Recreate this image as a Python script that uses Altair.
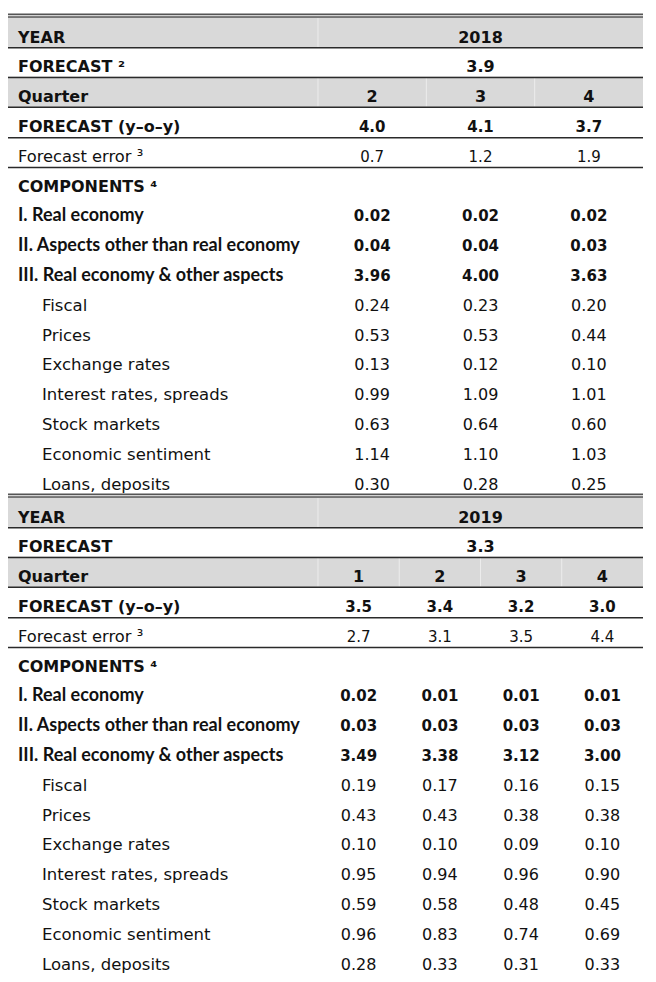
import altair as alt
import pandas as pd

# ---------------- data ----------------
years = ["2018", "2019"]
annual_forecast = ["3.9", "3.3"]
forecast_labels = ["FORECAST \u00b2", "FORECAST"]
quarters = [["2", "3", "4"], ["1", "2", "3", "4"]]
yoy = [["4.0", "4.1", "3.7"], ["3.5", "3.4", "3.2", "3.0"]]
errors = [["0.7", "1.2", "1.9"], ["2.7", "3.1", "3.5", "4.4"]]
component_labels = ["I. Real economy", "II. Aspects other than real economy",
                    "III. Real economy & other aspects"]
sub_labels = ["Fiscal", "Prices", "Exchange rates", "Interest rates, spreads",
              "Stock markets", "Economic sentiment", "Loans, deposits"]
comp_2018 = [[0.02, 0.02, 0.02], [0.04, 0.04, 0.03], [3.96, 4.00, 3.63]]
sub_2018 = [[0.24, 0.23, 0.20], [0.53, 0.53, 0.44], [0.13, 0.12, 0.10],
            [0.99, 1.09, 1.01], [0.63, 0.64, 0.60], [1.14, 1.10, 1.03],
            [0.30, 0.28, 0.25]]
comp_2019 = [[0.02, 0.01, 0.01, 0.01], [0.03, 0.03, 0.03, 0.03],
             [3.49, 3.38, 3.12, 3.00]]
sub_2019 = [[0.19, 0.17, 0.16, 0.15], [0.43, 0.43, 0.38, 0.38],
            [0.10, 0.10, 0.09, 0.10], [0.95, 0.94, 0.96, 0.90],
            [0.59, 0.58, 0.48, 0.45], [0.96, 0.83, 0.74, 0.69],
            [0.28, 0.33, 0.31, 0.33]]
comps = [comp_2018, comp_2019]
subs = [sub_2018, sub_2019]

# ---------------- layout ----------------
ROW0, PITCH, GAP = 36.0, 29.8, 3.2
TEXT_DY = 1.5
LEFT, RIGHT, VAL_LEFT = 5.0, 643.0, 318.0
LABEL_X, INDENT_X = 18.0, 42.0
ROWS_PER_SECTION = 16


def yc(section, i):
    return ROW0 + (section * ROWS_PER_SECTION + i) * PITCH + section * GAP


texts, bands, lines, vlines = [], [], [], []


def add_text(x, y, t, group, size):
    texts.append(dict(x=x, y=y + TEXT_DY, t=t, g=group, s=size))


for s in range(2):
    ncol = len(quarters[s])
    cw = (RIGHT - VAL_LEFT) / ncol
    centers = [VAL_LEFT + cw * (k + 0.5) for k in range(ncol)]
    mid = (VAL_LEFT + RIGHT) / 2
    # header labels
    add_text(LABEL_X, yc(s, 0), "YEAR", "lab_b", 16)
    add_text(LABEL_X, yc(s, 1), forecast_labels[s], "lab_b", 16)
    add_text(LABEL_X, yc(s, 2), "Quarter", "lab_b", 16)
    add_text(LABEL_X, yc(s, 3), "FORECAST (y\u2013o\u2013y)", "lab_b", 16)
    add_text(LABEL_X, yc(s, 4), "Forecast error \u00b3", "lab_n", 16.3)
    add_text(LABEL_X, yc(s, 5), "COMPONENTS \u2074", "lab_b", 16)
    for i, lab in enumerate(component_labels):
        add_text(LABEL_X, yc(s, 6 + i), lab, "lab_c", 18)
    for i, lab in enumerate(sub_labels):
        add_text(INDENT_X, yc(s, 9 + i), lab, "lab_n", 16.5)
    # values
    add_text(mid, yc(s, 0), years[s], "val_b", 16)
    add_text(mid, yc(s, 1), annual_forecast[s], "val_b", 16)
    for k in range(ncol):
        add_text(centers[k], yc(s, 2), quarters[s][k], "val_b", 16)
        add_text(centers[k], yc(s, 3), yoy[s][k], "val_b", 15)
        add_text(centers[k], yc(s, 4), errors[s][k], "val_n", 15)
        for i in range(3):
            add_text(centers[k], yc(s, 6 + i), f"{comps[s][i][k]:.2f}", "val_b", 15)
        for i in range(7):
            add_text(centers[k], yc(s, 9 + i), f"{subs[s][i][k]:.2f}", "val_n", 16)
    # grey bands (YEAR and Quarter rows)
    for r in (0, 2):
        top = yc(s, r) - 19
        bot = yc(s, r) + 11.7
        bands.append(dict(x=LEFT, x2=RIGHT, y=top, y2=bot))
        vlines.append(dict(x=VAL_LEFT, y=top + 0.8, y2=bot - 0.8))
        if r == 2:
            for k in range(1, ncol):
                xv = VAL_LEFT + cw * k
                vlines.append(dict(x=xv, y=top + 0.8, y2=bot - 0.8))
    # double line on top of section
    lines.append(dict(x=LEFT, x2=RIGHT, y=yc(s, 0) - 21.6, w=1.6, c="#555555"))
    lines.append(dict(x=LEFT, x2=RIGHT, y=yc(s, 0) - 19.0, w=1.6, c="#555555"))
    # single lines under header rows
    for r in range(5):
        lines.append(dict(x=LEFT, x2=RIGHT, y=yc(s, r) + 11.7 + (0.6 if r >= 3 else 0),
                          w=1.5, c="#2a2a2a"))

# bottom double line
last = yc(1, ROWS_PER_SECTION - 1)
lines.append(dict(x=LEFT, x2=RIGHT, y=last + 13.2, w=1.6, c="#555555"))
lines.append(dict(x=LEFT, x2=RIGHT, y=last + 15.8, w=1.6, c="#555555"))

tdf = pd.DataFrame(texts)
bdf = pd.DataFrame(bands)
ldf = pd.DataFrame(lines)
vdf = pd.DataFrame(vlines)

xs = alt.Scale(domain=[8, 648], nice=False, zero=False)
ys = alt.Scale(domain=[8, 974], nice=False, zero=False, reverse=True)

band_layer = alt.Chart(bdf).mark_rect(color="#d9d9d9").encode(
    x=alt.X("x:Q", scale=xs, axis=None), x2="x2:Q",
    y=alt.Y("y:Q", scale=ys, axis=None), y2="y2:Q")

vline_layer = alt.Chart(vdf).mark_rule(color="#ececec", strokeWidth=1).encode(
    x=alt.X("x:Q", scale=xs, axis=None),
    y=alt.Y("y:Q", scale=ys, axis=None), y2="y2:Q")

line_layers = []
for (w, c), sub in ldf.groupby(["w", "c"]):
    line_layers.append(
        alt.Chart(sub).mark_rule(color=c, strokeWidth=float(w)).encode(
            x=alt.X("x:Q", scale=xs, axis=None), x2="x2:Q",
            y=alt.Y("y:Q", scale=ys, axis=None)))

styles = {
    "lab_b": dict(font="DejaVu Sans", fontWeight="bold", align="left"),
    "lab_n": dict(font="DejaVu Sans", fontWeight="normal", align="left"),
    "lab_c": dict(font="Lato", fontWeight="bold", align="left"),
    "val_b": dict(font="DejaVu Sans", fontWeight="bold", align="center"),
    "val_n": dict(font="DejaVu Sans", fontWeight="normal", align="center"),
}
text_layers = []
for g, st in styles.items():
    sub = tdf[tdf.g == g]
    text_layers.append(
        alt.Chart(sub).mark_text(baseline="middle", color="#111111", **st).encode(
            x=alt.X("x:Q", scale=xs, axis=None),
            y=alt.Y("y:Q", scale=ys, axis=None),
            text="t:N",
            size=alt.Size("s:Q", scale=None, legend=None)))

chart = alt.layer(band_layer, vline_layer, *line_layers, *text_layers).properties(
    width=640, height=966, padding=0, autosize="none"
).configure_view(stroke=None)

chart.save("out.html", embed_options={"renderer": "svg", "actions": False})
